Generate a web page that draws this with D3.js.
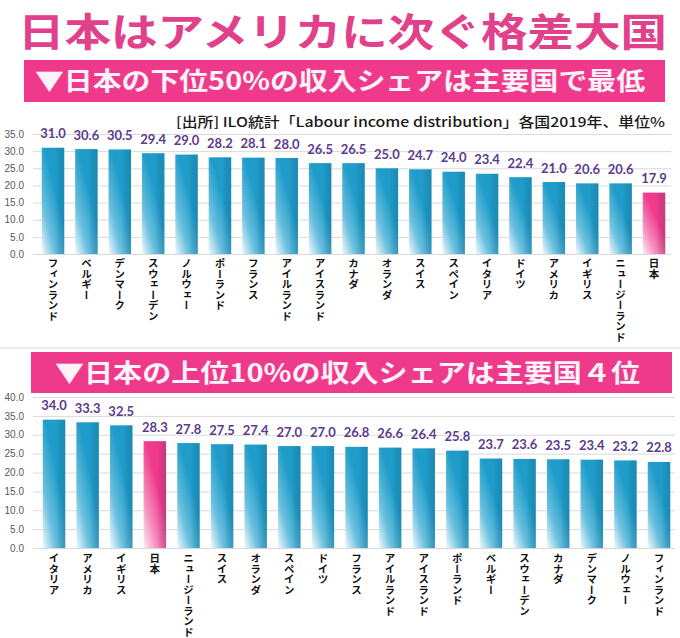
<!DOCTYPE html>
<html><head><meta charset="utf-8">
<script src="https://cdn.jsdelivr.net/npm/d3@7"></script>
<style>
html,body{margin:0;padding:0;background:#fff;}
svg{display:block;}
</style></head>
<body>
<svg id="c" width="680" height="638"></svg>
<script>
// ---- data ----
const titleText = "日本はアメリカに次ぐ格差大国";
const banner1Text = "▼日本の下位50%の収入シェアは主要国で最低";
const banner2Text = "▼日本の上位10%の収入シェアは主要国４位";
const sourceText = "[出所] ILO統計「Labour income distribution」各国2019年、単位%";

const bottom50Countries = ["フィンランド","ベルギー","デンマーク","スウェーデン","ノルウェー","ポーランド","フランス","アイルランド","アイスランド","カナダ","オランダ","スイス","スペイン","イタリア","ドイツ","アメリカ","イギリス","ニュージーランド","日本"];
const bottom50Values = [31.0,30.6,30.5,29.4,29.0,28.2,28.1,28.0,26.5,26.5,25.0,24.7,24.0,23.4,22.4,21.0,20.6,20.6,17.9];
const bottom50Ticks = [0,5,10,15,20,25,30,35];

const top10Countries = ["イタリア","アメリカ","イギリス","日本","ニュージーランド","スイス","オランダ","スペイン","ドイツ","フランス","アイルランド","アイスランド","ポーランド","ベルギー","スウェーデン","カナダ","デンマーク","ノルウェー","フィンランド"];
const top10Values = [34.0,33.3,32.5,28.3,27.8,27.5,27.4,27.0,27.0,26.8,26.6,26.4,25.8,23.7,23.6,23.5,23.4,23.2,22.8];
const top10Ticks = [0,5,10,15,20,25,30,35,40];

const highlight = "日本";

// ---- drawing ----
const svg = d3.select("#c");
const defs = svg.append("defs");
function grad(id, c0, c1, c2){
  const g = defs.append("linearGradient").attr("id", id)
    .attr("x1",0).attr("y1",1).attr("x2",0.55).attr("y2",0.35);
  g.append("stop").attr("offset",0).attr("stop-color",c0);
  g.append("stop").attr("offset",0.45).attr("stop-color",c1);
  g.append("stop").attr("offset",1).attr("stop-color",c2);
}
grad("gBlue","#f2fafd","#6cc0df","#1f9cc9");
grad("gPink","#fdeef5","#f590bf","#f03a8b");
const sh = defs.append("linearGradient").attr("id","gShade").attr("x1",0).attr("y1",0).attr("x2",1).attr("y2",0);
sh.append("stop").attr("offset",0).attr("stop-color","#000").attr("stop-opacity",0);
sh.append("stop").attr("offset",0.6).attr("stop-color","#000").attr("stop-opacity",0);
sh.append("stop").attr("offset",1).attr("stop-color","#004060").attr("stop-opacity",0.18);

const CJK = "'Noto Sans CJK JP', 'Noto Sans', sans-serif";

// separator line
svg.append("line").attr("x1",0).attr("x2",680).attr("y1",348).attr("y2",348)
  .attr("stroke","#dcdcdc").attr("stroke-width",1);

// title
svg.append("text").attr("x",18).attr("y",46)
  .attr("textLength",649).attr("lengthAdjust","spacingAndGlyphs")
  .style("font-family",CJK).style("font-weight",700).style("font-size","39px")
  .attr("fill","#e1408a").text(titleText);

function banner(x0,x1,y0,y1,tx0,tx1,text){
  svg.append("rect").attr("x",x0).attr("y",y0).attr("width",x1-x0).attr("height",y1-y0)
    .attr("fill","#ef3a8b");
  svg.append("text").attr("x",tx0).attr("y",(y0+y1)/2+9)
    .attr("textLength",tx1-tx0).attr("lengthAdjust","spacingAndGlyphs")
    .style("font-family",CJK).style("font-weight",700).style("font-size","25px")
    .attr("fill","#fff2f8").text(text);
}
banner(24,665,60,102,35,645,banner1Text);
banner(31,672,352,393,55,640,banner2Text);

// source
svg.append("text").attr("x",176).attr("y",127)
  .attr("textLength",489).attr("lengthAdjust","spacingAndGlyphs")
  .style("font-family",CJK).style("font-weight",500).style("font-size","13.5px")
  .attr("fill","#1a1a1a").text(sourceText);

function chart(opts){
  const {cats, vals, ticks, yTop, yBot, c0, cN, gx0, gx1, labelY} = opts;
  const n = cats.length;
  const step = (cN - c0)/(n-1);
  const pi = 1 - 22.5/step;
  const x = d3.scaleBand().domain(cats)
    .range([c0 - step/2, cN + step/2]).paddingInner(pi).paddingOuter(pi/2);
  const y = d3.scaleLinear().domain([0, d3.max(ticks)]).range([yBot, yTop]);
  const g = svg.append("g");
  // grid
  g.selectAll("line.grid").data(ticks).join("line")
    .attr("x1",gx0).attr("x2",gx1).attr("y1",d=>y(d)+0.5).attr("y2",d=>y(d)+0.5)
    .attr("stroke","#d9d9d9").attr("stroke-width",1);
  // y axis labels
  const ax = d3.axisLeft(y).tickValues(ticks).tickFormat(d3.format(".1f")).tickSize(0).tickPadding(0);
  const ag = g.append("g").attr("transform","translate(24,0)").call(ax);
  ag.select(".domain").remove();
  ag.selectAll("text").style("font-family","'Liberation Sans', Arial, sans-serif")
    .style("font-size","10px").attr("fill","#595959");
  // bars
  const data = cats.map((c,i)=>({c, v: vals[i]}));
  const bg = g.selectAll("g.bar").data(data).join("g");
  bg.append("rect")
    .attr("x",d=>x(d.c)).attr("width",x.bandwidth())
    .attr("y",d=>y(d.v)).attr("height",d=>y(0)-y(d.v))
    .attr("fill",d=>d.c===highlight?"url(#gPink)":"url(#gBlue)");
  bg.append("rect")
    .attr("x",d=>x(d.c)).attr("width",x.bandwidth())
    .attr("y",d=>y(d.v)).attr("height",d=>y(0)-y(d.v))
    .attr("fill","url(#gShade)");
  // value labels
  bg.append("text")
    .attr("x",d=>x(d.c)+x.bandwidth()/2).attr("y",d=>y(d.v)-9.5)
    .attr("text-anchor","middle")
    .style("font-family","Lato, 'Open Sans', sans-serif").style("font-weight",700)
    .style("font-size","13px").attr("fill","#5d3b8d")
    .text(d=>d3.format(".1f")(d.v));
  // category labels (vertical)
  bg.append("text")
    .attr("x",d=>x(d.c)+x.bandwidth()/2).attr("y",labelY)
    .attr("writing-mode","vertical-rl")
    .style("font-family",CJK).style("font-weight",700).style("font-size","10.5px")
    .attr("fill","#111").text(d=>d.c);
}

chart({cats:bottom50Countries, vals:bottom50Values, ticks:bottom50Ticks,
  yTop:134, yBot:254, c0:53, cN:654, gx0:33, gx1:671, labelY:258});
chart({cats:top10Countries, vals:top10Values, ticks:top10Ticks,
  yTop:397, yBot:548, c0:54, cN:659, gx0:33, gx1:675, labelY:553});
</script>
</body></html>
